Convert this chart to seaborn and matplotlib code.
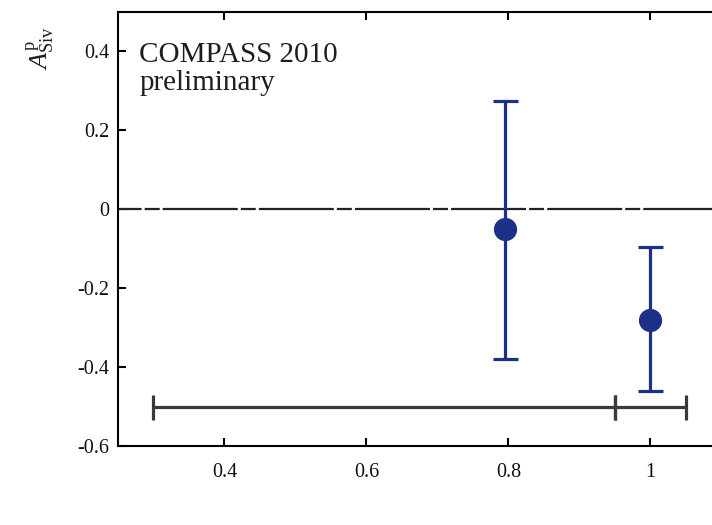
import numpy as np
import pandas as pd
import matplotlib
matplotlib.use("Agg")
import matplotlib.pyplot as plt
import seaborn as sns

# Measured asymmetry points
x_vals = [0.795, 1.0]
asym = [-0.05, -0.28]
err_up = [0.325, 0.185]
err_down = [0.33, 0.18]

# Systematic band: bin edges drawn at a fixed height
sys_edges = [0.3, 0.95, 1.05]
sys_level = -0.5

x_ticks = [0.4, 0.6, 0.8, 1.0]
x_ticklabels = ["0.4", "0.6", "0.8", "1"]
y_ticks = [0.4, 0.2, 0.0, -0.2, -0.4, -0.6]
y_ticklabels = ["0.4", "0.2", "0", "-0.2", "-0.4", "-0.6"]

sns.set_theme(style="ticks")
plt.rcParams["font.family"] = ["Liberation Serif", "DejaVu Serif"]
plt.rcParams["mathtext.fontset"] = "custom"
plt.rcParams["mathtext.rm"] = "Liberation Serif"
plt.rcParams["mathtext.it"] = "Liberation Serif:italic"
plt.rcParams["axes.unicode_minus"] = False
plt.rcParams["lines.scale_dashes"] = False

fig = plt.figure(figsize=(7.12, 5.25), dpi=100)
ax = fig.add_axes([0.1657, 0.1505, 0.8476, 0.8267])

blue = "#1b3087"
grey = "#3a3a3a"

# zero line with long/short dash pattern
ax.axhline(0, color="#222222", lw=1.6,
           linestyle=(37, (54, 2.2, 10.8, 2.2)), zorder=1)

# systematic band
edges = np.array(sys_edges)
centers = (edges[:-1] + edges[1:]) / 2
halfw = (edges[1:] - edges[:-1]) / 2
ax.errorbar(centers, [sys_level] * len(centers), xerr=halfw, fmt="none",
            ecolor=grey, elinewidth=2.3, capsize=9, capthick=2.3, zorder=2)

# data points with asymmetric errors
df = pd.DataFrame({"x": x_vals, "A": asym})
ax.errorbar(x_vals, asym, yerr=[err_down, err_up], fmt="none",
            ecolor=blue, elinewidth=2.3, capsize=9, capthick=2.3, zorder=3)
sns.scatterplot(data=df, x="x", y="A", ax=ax, color=blue, s=280,
                edgecolor=blue, linewidth=0, zorder=4, legend=False)

ax.set_xlim(0.25, 1.1)
ax.set_ylim(-0.6, 0.5)
ax.set_xticks(x_ticks)
ax.set_xticklabels(x_ticklabels)
ax.set_yticks(y_ticks)
ax.set_yticklabels(y_ticklabels)
ax.set_xlabel("")
ax.set_ylabel("")

for s in ax.spines.values():
    s.set_visible(True)
    s.set_linewidth(1.5)
    s.set_color("black")

ax.tick_params(axis="both", direction="in", length=6, width=1.5,
               colors="black", labelcolor="#111111", labelsize=14.5)
ax.tick_params(axis="x", top=True, pad=12)
ax.tick_params(axis="y", pad=6)

ax.text(0.035, 0.93, "COMPASS 2010\npreliminary", transform=ax.transAxes,
        fontsize=21, color="#1e1e1e", ha="left", va="top", linespacing=1.1)

fig.text(41 / 712, 1 - 48 / 525, r"$A^{\mathrm{p}}_{\mathrm{Siv}}$",
         rotation=90, fontsize=19, color="#1e1e1e", ha="center", va="center")

fig.savefig("out.png", dpi=100)
